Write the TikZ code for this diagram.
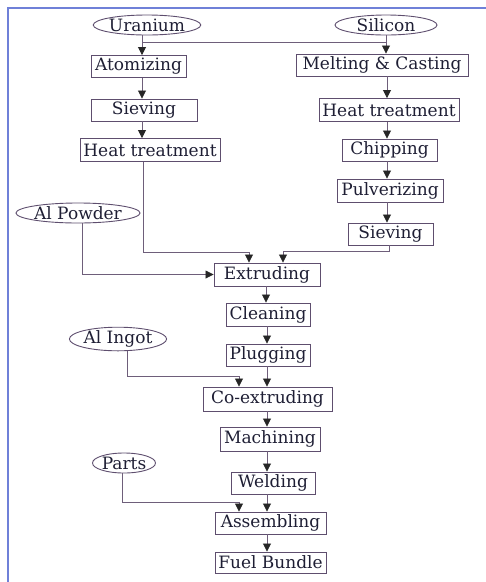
\documentclass[tikz,border=0pt]{standalone}
\usepackage{fontspec}
\setmainfont{DejaVu Serif}
\usetikzlibrary{arrows.meta,shapes.geometric}
\definecolor{frameblue}{HTML}{6F80D8}
\definecolor{boxline}{HTML}{5E4E6E}
\definecolor{conn}{HTML}{6E5E7A}
\definecolor{txt}{HTML}{1E1E34}
\tikzset{
  stepbox/.style={draw=boxline, line width=0.9pt, inner sep=0pt, minimum height=22pt, text=txt, font=\fontsize{17}{19}\selectfont},
  src/.style={ellipse, draw=boxline, line width=0.9pt, inner sep=0pt, minimum height=20pt, text=txt, font=\fontsize{17}{19}\selectfont},
  conline/.style={draw=conn, line width=0.8pt},
  arr/.style={conline, -{Triangle[length=8pt,width=8pt,fill=black!85,color=black!85]}},
}
\begin{document}
\begin{tikzpicture}[x=1pt,y=-1pt]
\useasboundingbox (0,0) rectangle (486,582);
\draw[frameblue, line width=2pt] (8,582) -- (8,8) -- (486,8);

% sources
\node[src, minimum width=100pt] (uran) at (147,25) {Uranium};
\node[src, minimum width=102pt] (sil) at (386,25) {Silicon};
\node[src, minimum width=117pt] (alp) at (78,213) {Al Powder};
\node[src, minimum width=95pt] (ali) at (118,339) {Al Ingot};
\node[src, minimum width=63pt] (parts) at (124,463) {Parts};

% left column
\node[stepbox, minimum width=95pt] (atom) at (138.5,66.5) {Atomizing};
\node[stepbox, minimum width=106pt] (siev1) at (144,110) {Sieving};
\node[stepbox, minimum width=140pt, minimum height=23pt] (ht1) at (150,150) {Heat treatment};

% right column
\node[stepbox, minimum width=172pt] (melt) at (382,65) {Melting \& Casting};
\node[stepbox, minimum width=140pt, minimum height=23pt] (ht2) at (389,110) {Heat treatment};
\node[stepbox, minimum width=95pt] (chip) at (389.5,150) {Chipping};
\node[stepbox, minimum width=106pt, minimum height=23pt] (pulv) at (390,190.5) {Pulverizing};
\node[stepbox, minimum width=85pt] (siev2) at (390.5,234) {Sieving};

% main line
\node[stepbox, minimum width=106pt, minimum height=23pt] (extr) at (267,274.5) {Extruding};
\node[stepbox, minimum width=84pt, minimum height=23pt] (clean) at (268,314.5) {Cleaning};
\node[stepbox, minimum width=84pt] (plug) at (268,355) {Plugging};
\node[stepbox, minimum width=129pt, minimum height=24pt] (coext) at (267.5,399) {Co-extruding};
\node[stepbox, minimum width=100pt, minimum height=24pt] (mach) at (270,439) {Machining};
\node[stepbox, minimum width=84pt] (weld) at (273,483) {Welding};
\node[stepbox, minimum width=111pt] (assem) at (270.5,523) {Assembling};
\node[stepbox, minimum width=111pt, minimum height=21pt] (fuel) at (270.5,562.5) {Fuel Bundle};

% column guide coordinates
\coordinate (L) at (142,0);
\coordinate (R) at (386,0);
\coordinate (M) at (267,0);
\coordinate (j1) at (142,42);
\coordinate (j2) at (386,42);
\coordinate (e1) at (249,252);
\coordinate (e2) at (283,251);
\coordinate (k1) at (239,376);
\coordinate (p1) at (239,502);

% top
\draw[arr] (uran.south -| L) -- (atom.north -| L);
\draw[conline] (j1) -- (j2);
\draw[arr] (sil.south -| R) -- (melt.north -| R);
\draw[arr] (atom.south -| L) -- (siev1.north -| L);
\draw[arr] (siev1.south -| L) -- (ht1.north -| L);
\draw[arr] ([xshift=1pt]melt.south -| R) -- ([xshift=1pt]ht2.north -| R);
\draw[arr] ([xshift=1pt]ht2.south -| R) -- ([xshift=1pt]chip.north -| R);
\draw[arr] ([xshift=1pt]chip.south -| R) -- ([xshift=1pt]pulv.north -| R);
\draw[arr] ([xshift=1pt]pulv.south -| R) -- ([xshift=1pt]siev2.north -| R);

% into extruding
\draw[arr] ([xshift=1pt]ht1.south -| L) |- (e1) -- (e1 |- extr.north);
\draw[arr] ([xshift=3pt]siev2.south -| R) |- (e2) -- (e2 |- extr.north);
\draw[arr] ([xshift=4pt]alp.south) |- (extr.west);

% main chain
\draw[arr] ([xshift=-1pt]extr.south -| M) -- ([xshift=-1pt]clean.north -| M);
\draw[arr] (clean.south -| M) -- (plug.north -| M);
\draw[arr] (plug.south -| M) -- (coext.north -| M);
\draw[arr] (ali.south -| 127,0) |- (k1) -- (k1 |- coext.north);
\draw[arr] (coext.south -| M) -- (mach.north -| M);
\draw[arr] (mach.south -| M) -- (weld.north -| M);
\draw[arr] (weld.south -| M) -- (assem.north -| M);
\draw[arr] (parts.south -| 122,0) |- (p1) -- (p1 |- assem.north);
\draw[arr] (assem.south -| M) -- (fuel.north -| M);
\end{tikzpicture}
\end{document}
